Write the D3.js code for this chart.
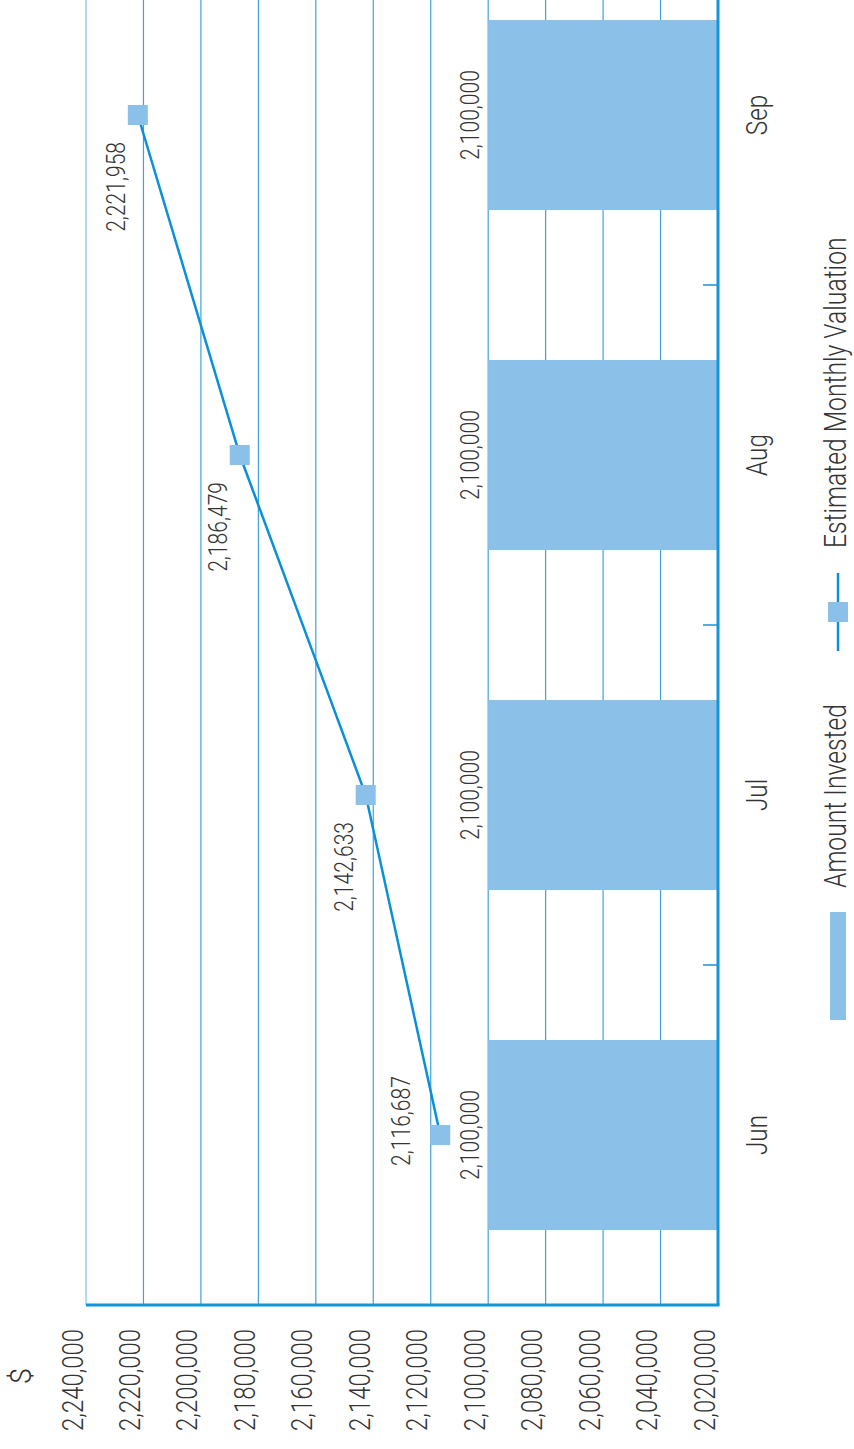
<!DOCTYPE html>
<html>
<head>
<meta charset="utf-8">
<script src="https://cdn.jsdelivr.net/npm/d3@7"></script>
<style>
  html, body { margin: 0; padding: 0; background: #fff; }
  svg text { font-family: Roboto, 'DejaVu Sans', sans-serif; font-weight: 300; fill: #333; }
</style>
</head>
<body>
<svg id="chart" width="854" height="1449"></svg>
<script>
// chart data
const months = ["Jun", "Jul", "Aug", "Sep"];
const amountInvested = [2100000, 2100000, 2100000, 2100000];
const monthlyValuation = [2116687, 2142633, 2186479, 2221958];
const valueTicks = [2020000, 2040000, 2060000, 2080000, 2100000, 2120000,
                    2140000, 2160000, 2180000, 2200000, 2220000, 2240000];
const seriesNames = ["Amount Invested", "Estimated Monthly Valuation"];

// the chart is drawn in landscape and turned a quarter turn to fit the page
const W = 1449, H = 854;
const plot = { left: 144, right: 1504, top: 86, bottom: 718 };
const barColor = "#8bc0e8", lineColor = "#0a90d8", axisColor = "#1296da";
const fmt = d3.format(",");
const squeeze = 0.81; // the original face is a condensed one

// squash text horizontally so it reads like a condensed font
function narrow(sel) {
  sel.each(function () {
    const len = this.getComputedTextLength();
    d3.select(this)
      .attr("textLength", len * squeeze)
      .attr("lengthAdjust", "spacingAndGlyphs");
  });
}

const svg = d3.select("#chart");
const g = svg.append("g").attr("transform", `translate(0,${W}) rotate(-90)`);

const x = d3.scaleBand()
  .domain(months)
  .range([plot.left, plot.right])
  .paddingInner(0.441)
  .paddingOuter(0.2205);

const y = d3.scaleLinear()
  .domain([d3.min(valueTicks), d3.max(valueTicks)])
  .range([plot.bottom, plot.top]);

const gap = (x.step() - x.bandwidth()) / 2;
const cx = d => x(d) + x.bandwidth() / 2;

// grid lines
g.append("g").selectAll("line")
  .data(valueTicks.slice(1))
  .join("line")
  .attr("x1", plot.left).attr("x2", plot.right)
  .attr("y1", d => y(d)).attr("y2", d => y(d))
  .attr("stroke", d => d === d3.max(valueTicks) ? "#7fc2ec" : "#3ea3dc")
  .attr("stroke-width", 1.2);

// bars
g.append("g").selectAll("rect")
  .data(months)
  .join("rect")
  .attr("x", d => x(d))
  .attr("width", x.bandwidth())
  .attr("y", (d, i) => y(amountInvested[i]))
  .attr("height", (d, i) => plot.bottom - y(amountInvested[i]))
  .attr("fill", barColor);

// bar labels
g.append("g").selectAll("text")
  .data(months)
  .join("text")
  .attr("x", d => cx(d))
  .attr("y", (d, i) => y(amountInvested[i]) - 9)
  .attr("text-anchor", "middle")
  .attr("font-size", 26)
  .text((d, i) => fmt(amountInvested[i]))
  .call(narrow);

// value axis (left in landscape)
const yAxis = g.append("g")
  .attr("transform", `translate(${plot.left},0)`)
  .call(d3.axisLeft(y).tickValues(valueTicks).tickSize(0).tickPadding(24).tickFormat(fmt));
yAxis.select(".domain").remove();
yAxis.selectAll("text")
  .attr("font-size", 29.5)
  .attr("dy", -4)
  .style("font-family", null)
  .call(narrow);
g.append("line")
  .attr("x1", plot.left).attr("x2", plot.left)
  .attr("y1", plot.top).attr("y2", plot.bottom + 1.5)
  .attr("stroke", axisColor).attr("stroke-width", 3);

// category axis (bottom in landscape)
const xAxis = g.append("g")
  .attr("transform", `translate(0,${plot.bottom})`)
  .call(d3.axisBottom(x).tickSize(0).tickPadding(49));
xAxis.select(".domain").remove();
xAxis.selectAll("text")
  .attr("font-size", 30)
  .attr("dy", 0)
  .style("font-family", null)
  .call(narrow);
g.append("g").selectAll("line")
  .data(months.slice(1))
  .join("line")
  .attr("x1", d => x(d) - gap).attr("x2", d => x(d) - gap)
  .attr("y1", plot.bottom).attr("y2", plot.bottom - 15)
  .attr("stroke", axisColor).attr("stroke-width", 1.5);
g.append("line")
  .attr("x1", plot.left).attr("x2", plot.right)
  .attr("y1", plot.bottom).attr("y2", plot.bottom)
  .attr("stroke", axisColor).attr("stroke-width", 3);

// currency unit
g.append("text")
  .attr("x", 73).attr("y", 31)
  .attr("text-anchor", "middle")
  .attr("font-size", 29.5)
  .text("$");

// valuation line
const pts = months.map((m, i) => [cx(m), y(monthlyValuation[i])]);
g.append("path")
  .attr("d", d3.line()(pts))
  .attr("fill", "none")
  .attr("stroke", lineColor)
  .attr("stroke-width", 2.5);

g.append("g").selectAll("rect")
  .data(pts)
  .join("rect")
  .attr("x", d => d[0] - 10).attr("y", d => d[1] - 10)
  .attr("width", 20).attr("height", 20)
  .attr("fill", barColor);

// point labels: first one sits above its marker, the rest to the left
g.append("g").selectAll("text")
  .data(pts)
  .join("text")
  .attr("x", (d, i) => i === 0 ? d[0] + 14 : d[0] - 27)
  .attr("y", (d, i) => i === 0 ? d[1] - 30 : d[1] - 13)
  .attr("text-anchor", (d, i) => i === 0 ? "middle" : "end")
  .attr("font-size", 26)
  .text((d, i) => fmt(monthlyValuation[i]))
  .call(narrow);

// legend
const legend = g.append("g");
legend.append("rect")
  .attr("x", 429).attr("y", 830)
  .attr("width", 108).attr("height", 16)
  .attr("fill", barColor);
legend.append("text")
  .attr("x", 561).attr("y", 846)
  .attr("font-size", 30.5)
  .text(seriesNames[0])
  .call(narrow);
legend.append("line")
  .attr("x1", 798).attr("x2", 876)
  .attr("y1", 838).attr("y2", 838)
  .attr("stroke", lineColor).attr("stroke-width", 2.5);
legend.append("rect")
  .attr("x", 827).attr("y", 828)
  .attr("width", 20).attr("height", 20)
  .attr("fill", barColor);
legend.append("text")
  .attr("x", 901).attr("y", 846)
  .attr("font-size", 30.5)
  .text(seriesNames[1])
  .call(narrow);
</script>
</body>
</html>
